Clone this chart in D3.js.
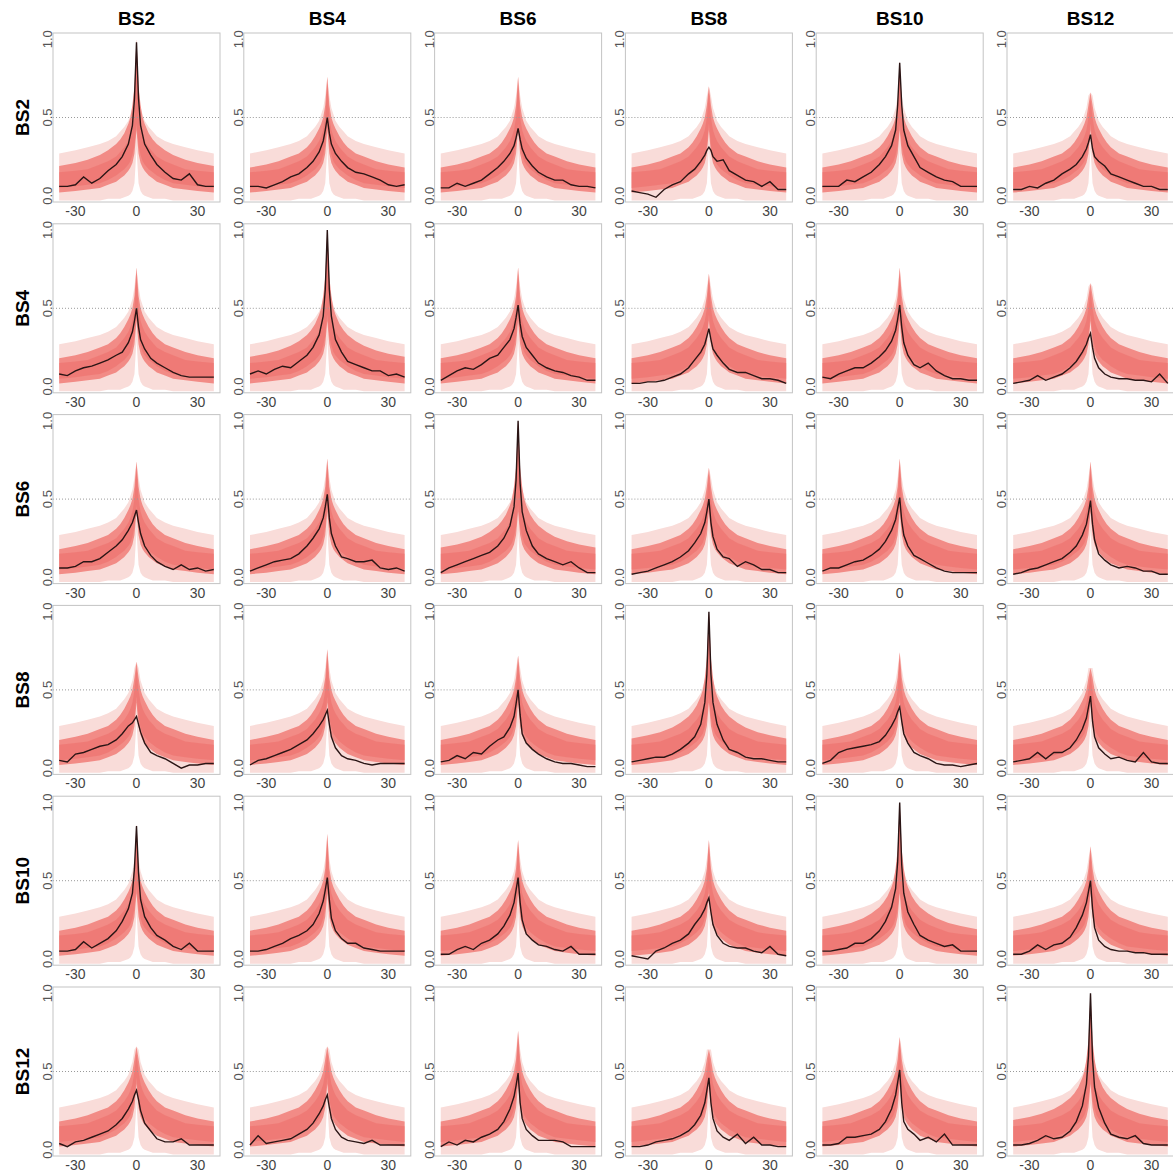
<!DOCTYPE html>
<html>
<head>
<meta charset="utf-8">
<script src="https://cdn.jsdelivr.net/npm/d3@7"></script>
<style>
body{margin:0;background:#fff;}
text{font-family:"Liberation Sans",Arial,sans-serif;}
</style>
</head>
<body>
<div id="canvas"></div>
<script>
// series names (rows and columns)
var names = ['BS2','BS4','BS6','BS8','BS10','BS12'];
var xTicks = [-30,0,30];
var yTicks = [0,0.5,1];
var yTickLabels = ['0.0','0.5','1.0'];

// lags where the observed (black) curves were read
var lagPts = [-38,-34,-30,-26,-22,-18,-14,-10,-7,-4,-2,-1,0,1,2,4,7,10,14,18,22,26,30,34,38];

// observed curves, one list per row, one series per column
var obsBS2 = [
  [0.06,0.06,0.07,0.12,0.08,0.11,0.16,0.2, 0.25,0.33,0.45,0.62, 0.98, 0.62,0.45,0.33,0.26, 0.2,0.15,0.11,0.1, 0.14,0.07,0.06,0.06],
  [0.06,0.06,0.05,0.07,0.09,0.12,0.14,0.18, 0.22,0.28,0.35,0.42, 0.5, 0.4,0.33,0.27,0.22, 0.18,0.15,0.14,0.12, 0.1,0.07,0.06,0.07],
  [0.05,0.05,0.08,0.06,0.08,0.1,0.14,0.18, 0.22,0.27,0.32,0.37, 0.43, 0.36,0.3,0.24,0.19, 0.15,0.12,0.1,0.1, 0.07,0.06,0.06,0.05],
  [0.03,0.02,0.01,-0.01,0.04,0.07,0.09,0.14, 0.17,0.22,0.26,0.29, 0.31, 0.29,0.25,0.22,0.23, 0.16,0.13,0.1,0.09, 0.06,0.09,0.04,0.04],
  [0.06,0.06,0.06,0.1,0.09,0.12,0.15,0.2, 0.25,0.32,0.42,0.58, 0.85, 0.58,0.42,0.32,0.25, 0.18,0.15,0.12,0.1, 0.09,0.06,0.06,0.06],
  [0.04,0.04,0.06,0.05,0.08,0.1,0.14,0.17, 0.2,0.25,0.3,0.34, 0.39, 0.3,0.25,0.22,0.19, 0.14,0.12,0.1,0.08, 0.06,0.06,0.04,0.04]
];
var obsBS4 = [
  [0.08,0.07,0.1,0.12,0.13,0.15,0.17,0.2, 0.22,0.28,0.35,0.42, 0.5, 0.38,0.3,0.24,0.18, 0.15,0.12,0.09,0.07, 0.06,0.06,0.06,0.06],
  [0.08,0.1,0.08,0.11,0.13,0.12,0.16,0.2, 0.25,0.33,0.45,0.62, 1.0, 0.62,0.45,0.3,0.22, 0.16,0.14,0.12,0.1, 0.1,0.07,0.08,0.06],
  [0.04,0.07,0.1,0.12,0.11,0.14,0.18,0.2, 0.25,0.3,0.37,0.44, 0.52, 0.4,0.32,0.25,0.2, 0.15,0.12,0.1,0.09, 0.07,0.06,0.04,0.04],
  [0.02,0.02,0.03,0.03,0.04,0.06,0.08,0.12, 0.17,0.22,0.27,0.32, 0.37, 0.3,0.24,0.2,0.15, 0.11,0.09,0.09,0.07, 0.05,0.05,0.04,0.02],
  [0.06,0.05,0.08,0.1,0.12,0.12,0.15,0.19, 0.23,0.29,0.36,0.43, 0.52, 0.38,0.28,0.2,0.14, 0.12,0.15,0.1,0.07, 0.05,0.05,0.04,0.04],
  [0.02,0.03,0.04,0.07,0.04,0.06,0.08,0.12, 0.16,0.22,0.27,0.31, 0.34, 0.25,0.18,0.12,0.08, 0.06,0.05,0.05,0.04, 0.04,0.03,0.08,0.02]
];
var obsBS6 = [
  [0.06,0.06,0.07,0.1,0.1,0.12,0.16,0.2, 0.24,0.3,0.35,0.39, 0.43, 0.35,0.28,0.2,0.14, 0.1,0.07,0.05,0.08, 0.05,0.06,0.04,0.05],
  [0.04,0.06,0.08,0.1,0.11,0.12,0.15,0.2, 0.25,0.31,0.38,0.45, 0.53, 0.38,0.28,0.2,0.13, 0.12,0.1,0.1,0.11, 0.06,0.05,0.06,0.04],
  [0.03,0.06,0.08,0.1,0.12,0.14,0.16,0.2, 0.25,0.33,0.45,0.62, 1.0, 0.6,0.42,0.3,0.2, 0.15,0.12,0.1,0.08, 0.1,0.06,0.03,0.03],
  [0.02,0.03,0.04,0.06,0.08,0.1,0.13,0.17, 0.22,0.28,0.35,0.42, 0.5, 0.35,0.26,0.18,0.13, 0.12,0.07,0.1,0.08, 0.05,0.05,0.03,0.03],
  [0.04,0.06,0.06,0.08,0.1,0.11,0.14,0.18, 0.23,0.3,0.37,0.44, 0.51, 0.36,0.27,0.2,0.14, 0.12,0.09,0.06,0.04, 0.03,0.03,0.03,0.03],
  [0.02,0.03,0.05,0.06,0.08,0.1,0.12,0.16, 0.2,0.27,0.34,0.41, 0.49, 0.34,0.24,0.15,0.11, 0.08,0.06,0.07,0.06, 0.04,0.04,0.02,0.02]
];
var obsBS8 = [
  [0.05,0.04,0.09,0.1,0.12,0.14,0.15,0.18, 0.22,0.27,0.29,0.31, 0.33, 0.28,0.23,0.16,0.1, 0.08,0.06,0.03,0.0, 0.02,0.02,0.03,0.03],
  [0.02,0.05,0.06,0.08,0.1,0.12,0.15,0.18, 0.22,0.27,0.31,0.34, 0.37, 0.28,0.2,0.13,0.08, 0.06,0.05,0.03,0.02, 0.03,0.03,0.03,0.03],
  [0.04,0.05,0.08,0.06,0.1,0.09,0.14,0.18, 0.2,0.26,0.33,0.41, 0.5, 0.34,0.22,0.16,0.12, 0.09,0.06,0.04,0.03, 0.03,0.02,0.01,0.01],
  [0.04,0.05,0.06,0.07,0.07,0.09,0.12,0.16, 0.2,0.28,0.42,0.6, 1.0, 0.6,0.42,0.28,0.18, 0.12,0.1,0.07,0.06, 0.06,0.05,0.04,0.04],
  [0.03,0.05,0.1,0.12,0.13,0.14,0.15,0.17, 0.21,0.27,0.32,0.36, 0.39, 0.3,0.22,0.16,0.1, 0.08,0.06,0.03,0.02, 0.02,0.01,0.02,0.03],
  [0.04,0.05,0.06,0.1,0.06,0.1,0.1,0.13, 0.18,0.25,0.32,0.39, 0.46, 0.3,0.2,0.13,0.09, 0.06,0.07,0.05,0.04, 0.1,0.04,0.03,0.03]
];
var obsBS10 = [
  [0.05,0.05,0.06,0.11,0.07,0.1,0.13,0.18, 0.24,0.32,0.42,0.58, 0.85, 0.55,0.38,0.27,0.2, 0.15,0.12,0.08,0.06, 0.1,0.05,0.05,0.05],
  [0.05,0.05,0.06,0.08,0.1,0.13,0.15,0.18, 0.22,0.29,0.37,0.44, 0.52, 0.38,0.26,0.18,0.13, 0.1,0.1,0.07,0.06, 0.05,0.05,0.05,0.05],
  [0.03,0.03,0.06,0.08,0.06,0.1,0.12,0.16, 0.21,0.28,0.36,0.44, 0.52, 0.36,0.25,0.16,0.12, 0.09,0.08,0.06,0.05, 0.08,0.03,0.03,0.03],
  [0.02,0.01,0.0,0.05,0.07,0.1,0.12,0.16, 0.22,0.27,0.32,0.36, 0.39, 0.3,0.22,0.15,0.1, 0.08,0.07,0.07,0.05, 0.04,0.08,0.03,0.02],
  [0.05,0.05,0.06,0.07,0.1,0.1,0.13,0.18, 0.24,0.33,0.45,0.62, 1.0, 0.6,0.42,0.3,0.22, 0.15,0.12,0.1,0.08, 0.09,0.05,0.05,0.05],
  [0.03,0.03,0.05,0.09,0.06,0.09,0.1,0.14, 0.2,0.28,0.36,0.43, 0.5, 0.32,0.2,0.12,0.08, 0.06,0.05,0.05,0.04, 0.04,0.03,0.03,0.03]
];
var obsBS12 = [
  [0.04,0.02,0.05,0.06,0.08,0.1,0.12,0.16, 0.2,0.26,0.31,0.35, 0.38, 0.32,0.25,0.17,0.12, 0.07,0.05,0.05,0.07, 0.03,0.03,0.03,0.03],
  [0.03,0.09,0.04,0.05,0.06,0.07,0.1,0.13, 0.17,0.23,0.28,0.32, 0.35, 0.27,0.2,0.13,0.08, 0.06,0.05,0.04,0.06, 0.03,0.03,0.03,0.03],
  [0.02,0.05,0.03,0.06,0.05,0.08,0.1,0.13, 0.18,0.26,0.34,0.41, 0.49, 0.3,0.2,0.13,0.09, 0.06,0.06,0.06,0.05, 0.02,0.02,0.02,0.02],
  [0.02,0.02,0.03,0.05,0.06,0.07,0.09,0.12, 0.16,0.22,0.3,0.38, 0.46, 0.3,0.2,0.12,0.08, 0.06,0.1,0.04,0.08, 0.03,0.03,0.02,0.02],
  [0.03,0.03,0.04,0.08,0.08,0.09,0.1,0.13, 0.18,0.26,0.35,0.43, 0.51, 0.3,0.18,0.13,0.1, 0.06,0.08,0.05,0.1, 0.03,0.03,0.03,0.03],
  [0.03,0.03,0.04,0.06,0.09,0.07,0.08,0.12, 0.18,0.28,0.42,0.6, 1.0, 0.58,0.4,0.27,0.17, 0.1,0.08,0.07,0.09, 0.04,0.03,0.03,0.03]
];
var observed = [obsBS2, obsBS4, obsBS6, obsBS8, obsBS10, obsBS12];

// top of the pink band at lag 0, per panel
var bandPeak = [
  [1.0, 0.76, 0.76, 0.7, 0.86, 0.66],
  [0.76, 1.0, 0.76, 0.72, 0.76, 0.66],
  [0.74, 0.76, 1.0, 0.7, 0.76, 0.74],
  [0.68, 0.76, 0.72, 1.0, 0.74, 0.64],
  [0.86, 0.8, 0.76, 0.76, 1.0, 0.72],
  [0.66, 0.66, 0.76, 0.64, 0.72, 1.0]
];

// pink band envelopes against |lag| (the lag-0 top comes from bandPeak)
var bandLags   = [0, 1, 2, 3, 4, 6, 8, 10, 14, 18, 24, 30, 38];
var coreHi     = [0, 0.58, 0.5, 0.46, 0.43, 0.38, 0.34, 0.31, 0.27, 0.25, 0.22, 0.2, 0.18];
var coreHiDiag = [0, 0.7, 0.58, 0.5, 0.46, 0.4, 0.36, 0.33, 0.29, 0.26, 0.23, 0.21, 0.19];
var coreLo     = [0.42, 0.27, 0.21, 0.18, 0.16, 0.13, 0.11, 0.09, 0.07, 0.05, 0.04, 0.03, 0.02];
var denseHi    = [0, 0.5, 0.42, 0.38, 0.35, 0.31, 0.28, 0.25, 0.22, 0.2, 0.17, 0.16, 0.15];
var denseLo    = [0.46, 0.32, 0.26, 0.22, 0.2, 0.17, 0.15, 0.13, 0.1, 0.08, 0.07, 0.06, 0.05];
var outerHi    = [0, 0.64, 0.56, 0.52, 0.48, 0.44, 0.41, 0.38, 0.35, 0.33, 0.31, 0.29, 0.27];
var outerLo    = [0.3, 0.08, 0.03, 0.01, 0.0, -0.01, -0.02, -0.02, -0.02, -0.03, -0.03, -0.03, -0.03];

var m = {l:53, t:33};
var step = 190.8, pw = 167, ph = 169;

var svg = d3.select('#canvas').append('svg')
  .attr('width', 1173)
  .attr('height', 1175)
  .style('display','block');

var x = d3.scaleLinear().domain([-41.04, 41.04]).range([0, pw]);
var y = d3.scaleLinear().domain([-0.04, 1.04]).range([ph, 0]);

function mirror(vals, top){
  var pts = [];
  for (var i = bandLags.length - 1; i > 0; i--) pts.push({lag:-bandLags[i], v:vals[i]});
  pts.push({lag:0, v:(top === undefined ? vals[0] : top)});
  for (var j = 1; j < bandLags.length; j++) pts.push({lag:bandLags[j], v:vals[j]});
  return pts;
}
function band(lo, hi){
  return lo.map(function(d,i){ return {lag:d.lag, lo:d.v, hi:hi[i].v}; });
}

var area = d3.area()
  .x(function(d){ return x(d.lag); })
  .y0(function(d){ return y(d.lo); })
  .y1(function(d){ return y(d.hi); });
var line = d3.line()
  .x(function(d){ return x(d.lag); })
  .y(function(d){ return y(d.v); });

// column titles and row labels
names.forEach(function(n, i){
  svg.append('text')
    .attr('x', m.l + i*step + pw/2)
    .attr('y', 25)
    .attr('text-anchor','middle')
    .style('font-weight','bold')
    .style('font-size','19px')
    .text(n);
  svg.append('text')
    .attr('transform','translate(29,' + (m.t + i*step + ph/2) + ') rotate(-90)')
    .attr('text-anchor','middle')
    .style('font-weight','bold')
    .style('font-size','19px')
    .text(n);
});

names.forEach(function(rn, r){
  names.forEach(function(cn, c){
    var g = svg.append('g')
      .attr('transform','translate(' + (m.l + c*step) + ',' + (m.t + r*step) + ')');
    var diag = (r === c);
    var pk = bandPeak[r][c];
    var outer = band(mirror(outerLo), mirror(outerHi, pk));
    var core = band(mirror(coreLo), mirror(diag ? coreHiDiag : coreHi, pk));
    var dense = band(mirror(denseLo), mirror(denseHi, pk - 0.04));

    g.append('path').datum(outer)
      .attr('d', area)
      .attr('fill','#f9dcd9');
    g.append('path').datum(core)
      .attr('fill','#f28b86')
      .attr('d', area);
    g.append('path').datum(dense)
      .attr('fill','#ec6e69')
      .attr('opacity',0.55)
      .attr('d', area);

    // dotted reference at 0.5
    g.append('line')
      .attr('x1',0).attr('x2',pw)
      .attr('y1',y(0.5)).attr('y2',y(0.5))
      .attr('stroke','#9a9a9a')
      .attr('stroke-dasharray','1,2');

    var obs = lagPts.map(function(l,i){ return {lag:l, v:observed[r][c][i]}; });
    g.append('path').datum(obs)
      .attr('d', line)
      .attr('fill','none')
      .attr('stroke','#2a1515')
      .attr('stroke-width',1.4);

    g.append('rect')
      .attr('width',pw).attr('height',ph)
      .attr('fill','none')
      .attr('stroke','#c4c4c4');

    xTicks.forEach(function(t){
      g.append('text')
        .attr('x', x(t)).attr('y', ph + 14)
        .attr('text-anchor','middle')
        .attr('fill','#444')
        .style('font-size','14px')
        .text(t);
    });
    yTicks.forEach(function(t,i){
      g.append('text')
        .attr('transform','translate(-1,' + y(t) + ') rotate(-90)')
        .attr('text-anchor','middle')
        .attr('fill','#555')
        .style('font-size','13px')
        .text(yTickLabels[i]);
    });
  });
});
</script>
</body>
</html>
